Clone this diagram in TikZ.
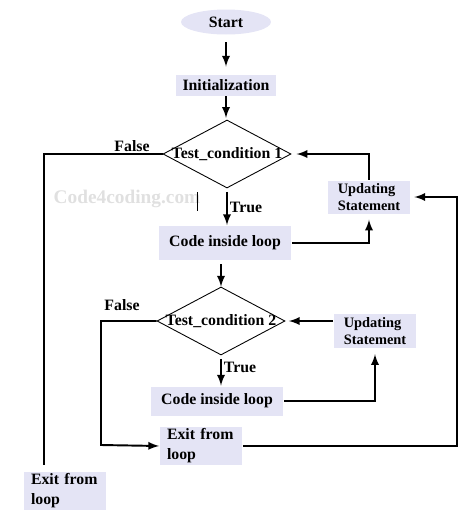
\documentclass[tikz,border=0pt]{standalone}
\usepackage{fontspec}
\setmainfont{Liberation Serif}
\usepackage{tikz}
\usetikzlibrary{shapes.geometric}
\definecolor{boxfill}{RGB}{228,228,245}
\definecolor{markgray}{RGB}{224,224,224}

\begin{document}
\begin{tikzpicture}[x=0.02cm, y=-0.02cm, >=latex, line width=1.1pt,
  every node/.style={font=\fontsize{9}{10}\selectfont\bfseries},
  box/.style={fill=boxfill, inner sep=0pt},
  updbox/.style={box, align=left, font=\fontsize{8.2}{10}\selectfont\bfseries, minimum width=1.64cm},
  exitbox/.style={box, align=left, text width=1.36cm, inner xsep=0.14cm, font=\fontsize{9}{11.3}\selectfont\bfseries, minimum height=0.76cm},
  cond/.style={draw, diamond, line width=0.5pt, minimum width=2.56cm, minimum height=1.36cm, inner sep=0pt}]
\useasboundingbox (0,0) rectangle (474,518);

\node[box, ellipse, minimum width=1.8cm, minimum height=0.5cm] (start) at (226,22) {Start};
\node[box, minimum width=2cm, minimum height=0.42cm] (init) at (226,85) {Initialization};
\node[cond] (cond1) at (227,154) {};
\node (cond1txt) at (cond1) {Test\_condition 1};
\node[box, minimum width=2.64cm, minimum height=0.68cm] (code1) at (225,243) {Code inside loop};
\node[updbox, minimum height=0.66cm] (upd1) at (369,197) {Updating\\Statement};
\node[cond] (cond2) at (221,321) {};
\node (cond2txt) at (cond2) {Test\_condition 2};
\node[box, minimum width=2.66cm, minimum height=0.58cm] (code2) at (217,401) {Code inside loop};
\node[updbox, minimum height=0.68cm] (upd2) at (375,331) {Updating\\Statement};
\node[exitbox] (exit2) at (201,446) {Exit from\\loop};
\node[exitbox] (exit1) at (65,491) {Exit from\\loop};

% labels on the branches
\node (false1) at (132,146) {False};
\node (true1) at (246,207) {True};
\node (false2) at (122,305) {False};
\node (true2) at (240,367) {True};
\node[text=markgray, font=\fontsize{11}{12}\selectfont\bfseries] (mark) at (127,199) {Code4coding.com};
\draw[line width=0.5pt] (197,192) -- (197,211);

\coordinate (f1) at (44,465);
\coordinate (f2) at (101,445);
\coordinate (back) at (457,197);

\draw[->, shorten <=4pt, shorten >=4pt] (start.south) -- (start.south |- init.north);
\draw[->, shorten >=1pt] (init.south) -- (init.south |- cond1.north);
\draw (cond1.west) -| (f1);
\draw[->, shorten <=2pt] (cond1.south) -- (cond1.south |- code1.north);
\draw[->, shorten >=3pt] (code1.east) -| (upd1.south);
\draw[->, shorten >=3pt] (upd1.north) |- (cond1.east);
\draw[->, shorten <=2pt] (cond2.north |- code1.south) -- (cond2.north);
\draw[->] (cond2.west) -| (f2) -- (exit2.west);
\draw[->, shorten <=2pt] (cond2.south) -- (cond2.south |- code2.north);
\draw[->, shorten >=3pt] (code2.east) -| (upd2.south);
\draw[->, shorten >=2pt] (upd2.west |- cond2.east) -- (cond2.east);
\draw[->, shorten >=2pt] (exit2.east) -| (back) -- (upd1.east);
\end{tikzpicture}
\end{document}
